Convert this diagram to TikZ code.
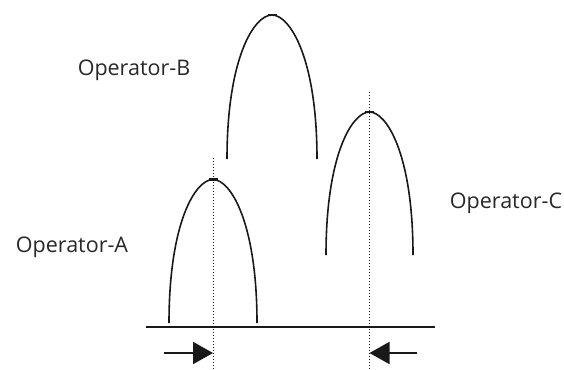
\documentclass[tikz,border=0pt]{standalone}
\usepackage{fontspec}
\setmainfont{Open Sans}
\usepackage{tikz}
\usetikzlibrary{arrows.meta,positioning}
\definecolor{opink}{RGB}{25,25,25}
\definecolor{optext}{RGB}{40,40,40}
\tikzset{
  bell/.style={opink, line width=1.6pt},
  apexmark/.style={opink, line width=2.2pt},
  axisline/.style={opink, line width=1.4pt},
  centreline/.style={opink, line width=1pt, dotted},
  push/.style={opink, line width=1.8pt, -{Triangle[length=20pt,width=22pt]}},
  oplabel/.style={optext, font=\fontsize{21.5}{24}\selectfont, inner sep=0pt}
}
% #1 centre x, #2 apex y, #3 half width, #4 foot y
\newcommand{\opbell}[4]{%
  \draw[bell] ({#1-#3},#4)
    .. controls ({#1-#3},{#4-0.7*(#4-#2)}) and ({#1-0.4*#3},#2) .. (#1,#2)
    .. controls ({#1+0.4*#3},#2) and ({#1+#3},{#4-0.7*(#4-#2)}) .. ({#1+#3},#4);
  \draw[apexmark] (#1-4.5,#2) -- (#1+4.5,#2);
}

\begin{document}
\begin{tikzpicture}[x=1pt, y=-1pt, line cap=butt]
  \useasboundingbox (0,0) rectangle (564,369);

  % Ground line shared by all operators.
  \draw[axisline] (146,327) -- (435,327);

  % Operator-A: shifted right towards its centre line.
  \opbell{213}{179.5}{44}{323}
  \draw[centreline] (213,158) -- (213,369);

  % Operator-B: the highest one.
  \opbell{272}{15}{45}{159}

  % Operator-C: shifted left towards its centre line.
  \opbell{369.5}{112}{43.5}{255}
  \draw[centreline] (369.5,92) -- (369.5,369);

  \node[oplabel] (labA) at (72,247) {Operator-A};
  \node[oplabel] (labB) at (134,70) {Operator-B};
  \node[oplabel] (labC) at (506,203) {Operator-C};

  % Push arrows at the foot of each centre line.
  \coordinate (tailA) at (164,353);
  \coordinate (tipA) at (213,353);
  \coordinate (tailC) at (417,353);
  \coordinate (tipC) at (369.5,353);
  \draw[push] (tailA) -- (tipA);
  \draw[push] (tailC) -- (tipC);
\end{tikzpicture}
\end{document}
